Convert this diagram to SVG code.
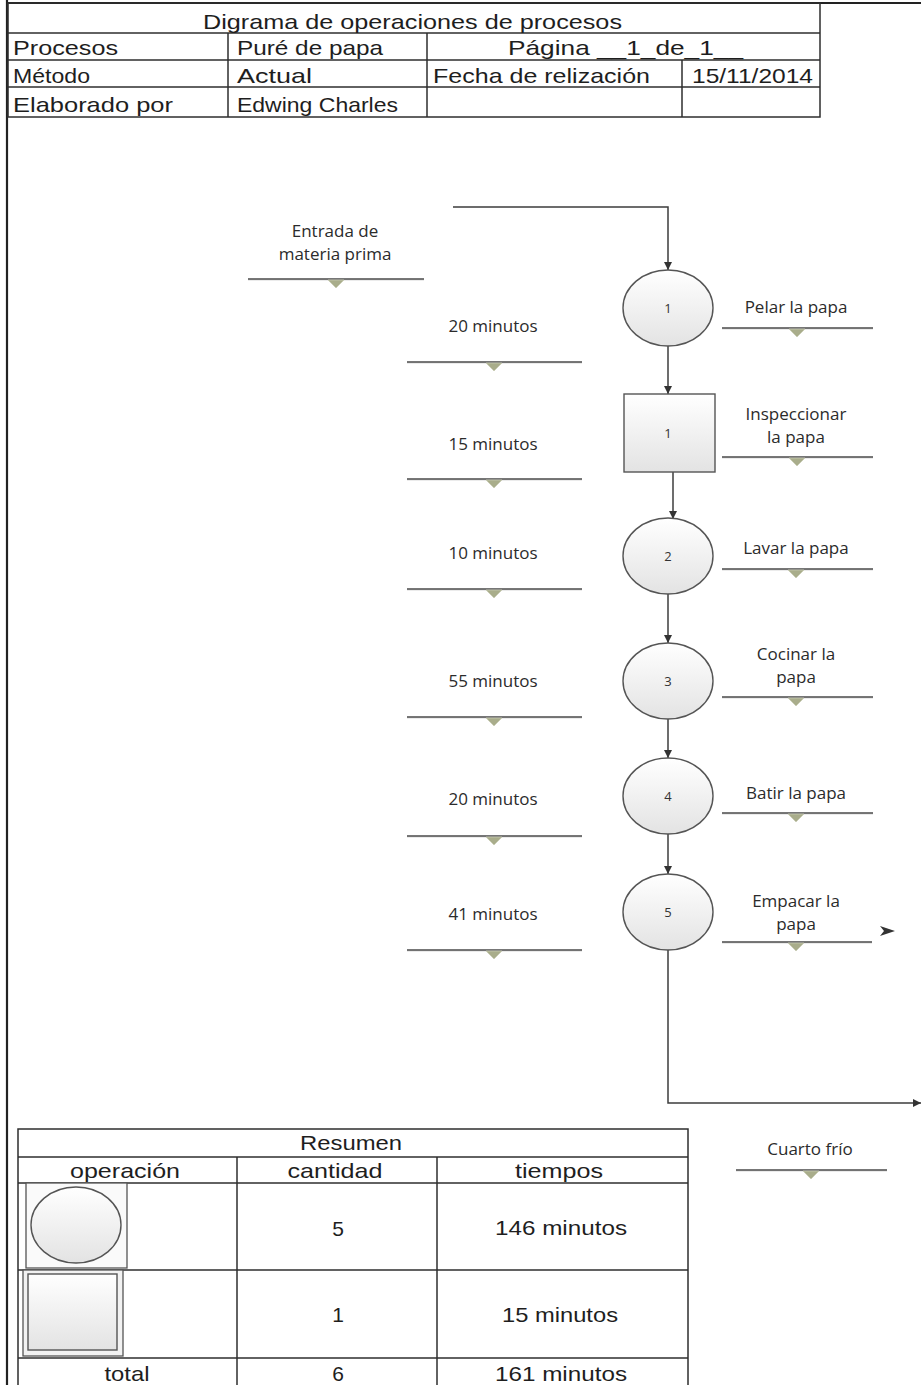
<svg xmlns="http://www.w3.org/2000/svg" width="921" height="1385" viewBox="0 0 921 1385">
<defs>
<style>
.h{font-family:"Liberation Sans",Arial,sans-serif;font-size:21px;fill:#1e1e1e}
.hc{font-family:"Liberation Sans",Arial,sans-serif;font-size:21px;fill:#1e1e1e;text-anchor:middle}
.t{font-family:"Open Sans","Noto Sans","DejaVu Sans",sans-serif;font-size:17px;fill:#2b2b2b;text-anchor:middle}
.n{font-family:"Open Sans","Noto Sans","DejaVu Sans",sans-serif;font-size:13px;fill:#333;text-anchor:middle}
.grid{stroke:#2e2e2e;stroke-width:1.5;fill:none}
.conn{stroke:#3c3c3c;stroke-width:1.5;fill:none}
.al{stroke:#4a4a4a;stroke-width:1.5}
.als{stroke:#d8d8d8;stroke-width:1}
.mk{fill:#a9ad8b;stroke:#c9ccb5;stroke-width:0.8}
.shape{fill:url(#g);stroke:#555;stroke-width:1.4}
</style>
<linearGradient id="g" x1="0" y1="0" x2="0" y2="1">
<stop offset="0" stop-color="#ffffff"/>
<stop offset="1" stop-color="#e3e3e3"/>
</linearGradient>
<marker id="arr" viewBox="0 0 10 10" refX="10" refY="5" markerWidth="8" markerHeight="8" markerUnits="userSpaceOnUse" orient="auto">
<path d="M0,0 L10,5 L0,10 z" fill="#333"/>
</marker>
<symbol id="tri" overflow="visible">
<path d="M-8,1 L8,1 L0,9 z" class="mk"/>
</symbol>
</defs>

<rect x="0" y="0" width="921" height="1385" fill="#ffffff"/>

<!-- page border -->
<g id="page-border">
<line x1="7" y1="0" x2="7" y2="1385" stroke="#222" stroke-width="2.2"/>
<line x1="6" y1="3" x2="921" y2="3" stroke="#222" stroke-width="2.2"/>
</g>

<!-- header table -->
<g id="header-table">
<rect x="8" y="3" width="812" height="114" class="grid"/>
<line x1="8" y1="33" x2="820" y2="33" class="grid"/>
<line x1="8" y1="60" x2="820" y2="60" class="grid"/>
<line x1="8" y1="87" x2="820" y2="87" class="grid"/>
<line x1="228" y1="33" x2="228" y2="117" class="grid"/>
<line x1="427" y1="33" x2="427" y2="117" class="grid"/>
<line x1="682" y1="60" x2="682" y2="117" class="grid"/>
<text class="h" x="203" y="29" textLength="419" lengthAdjust="spacingAndGlyphs">Digrama de operaciones de procesos</text>
<text class="h" x="13" y="55" textLength="105" lengthAdjust="spacingAndGlyphs">Procesos</text>
<text class="h" x="237" y="55" textLength="146" lengthAdjust="spacingAndGlyphs">Puré de papa</text>
<text class="h" x="508" y="55" textLength="235" lengthAdjust="spacingAndGlyphs">Página __1_de_1__</text>
<text class="h" x="13" y="83" textLength="77" lengthAdjust="spacingAndGlyphs">Método</text>
<text class="h" x="237" y="83" textLength="75" lengthAdjust="spacingAndGlyphs">Actual</text>
<text class="h" x="433" y="83" textLength="217" lengthAdjust="spacingAndGlyphs">Fecha de relización</text>
<text class="h" x="692" y="83" textLength="121" lengthAdjust="spacingAndGlyphs">15/11/2014</text>
<text class="h" x="13" y="112" textLength="160" lengthAdjust="spacingAndGlyphs">Elaborado por</text>
<text class="h" x="237" y="112" textLength="161" lengthAdjust="spacingAndGlyphs">Edwing Charles</text>
</g>

<!-- connectors -->
<g id="connectors">
<polyline points="453,207 668,207 668,270" class="conn" marker-end="url(#arr)"/>
<line x1="668" y1="346" x2="668" y2="394" class="conn" marker-end="url(#arr)"/>
<line x1="673" y1="472" x2="673" y2="519" class="conn" marker-end="url(#arr)"/>
<line x1="668" y1="594" x2="668" y2="643" class="conn" marker-end="url(#arr)"/>
<line x1="668" y1="719" x2="668" y2="758" class="conn" marker-end="url(#arr)"/>
<line x1="668" y1="834" x2="668" y2="874" class="conn" marker-end="url(#arr)"/>
<polyline points="668,950 668,1103 921,1103" class="conn" marker-end="url(#arr)"/>
<path d="M880,926 L895,931 L880,936 L884,931 z" fill="#333"/>
</g>

<!-- process nodes -->
<g id="op1">
<ellipse cx="668" cy="308" rx="45" ry="38" class="shape"/>
<text class="n" x="668" y="313">1</text>
</g>
<g id="insp1">
<rect x="624" y="394" width="91" height="78" class="shape"/>
<text class="n" x="668" y="438">1</text>
</g>
<g id="op2">
<ellipse cx="668" cy="556" rx="45" ry="38" class="shape"/>
<text class="n" x="668" y="561">2</text>
</g>
<g id="op3">
<ellipse cx="668" cy="681" rx="45" ry="38" class="shape"/>
<text class="n" x="668" y="686">3</text>
</g>
<g id="op4">
<ellipse cx="668" cy="796" rx="45" ry="38" class="shape"/>
<text class="n" x="668" y="801">4</text>
</g>
<g id="op5">
<ellipse cx="668" cy="912" rx="45" ry="38" class="shape"/>
<text class="n" x="668" y="917">5</text>
</g>

<!-- annotations -->
<g id="ann-entrada">
<text class="t" x="335" y="237">Entrada de</text>
<text class="t" x="335" y="260">materia prima</text>
<line x1="248" y1="280" x2="424" y2="280" class="als"/>
<line x1="248" y1="279" x2="424" y2="279" class="al"/>
<use href="#tri" x="336" y="279"/>
</g>
<g id="ann-pelar">
<text class="t" x="796" y="313">Pelar la papa</text>
<line x1="722" y1="329" x2="873" y2="329" class="als"/>
<line x1="722" y1="328" x2="873" y2="328" class="al"/>
<use href="#tri" x="797" y="328"/>
</g>
<g id="ann-inspeccionar">
<text class="t" x="796" y="420">Inspeccionar</text>
<text class="t" x="796" y="443">la papa</text>
<line x1="722" y1="458" x2="873" y2="458" class="als"/>
<line x1="722" y1="457" x2="873" y2="457" class="al"/>
<use href="#tri" x="797" y="457"/>
</g>
<g id="ann-lavar">
<text class="t" x="796" y="554">Lavar la papa</text>
<line x1="722" y1="570" x2="873" y2="570" class="als"/>
<line x1="722" y1="569" x2="873" y2="569" class="al"/>
<use href="#tri" x="796" y="569"/>
</g>
<g id="ann-cocinar">
<text class="t" x="796" y="660">Cocinar la</text>
<text class="t" x="796" y="683">papa</text>
<line x1="722" y1="698" x2="873" y2="698" class="als"/>
<line x1="722" y1="697" x2="873" y2="697" class="al"/>
<use href="#tri" x="796" y="697"/>
</g>
<g id="ann-batir">
<text class="t" x="796" y="799">Batir la papa</text>
<line x1="722" y1="814" x2="873" y2="814" class="als"/>
<line x1="722" y1="813" x2="873" y2="813" class="al"/>
<use href="#tri" x="796" y="813"/>
</g>
<g id="ann-empacar">
<text class="t" x="796" y="907">Empacar la</text>
<text class="t" x="796" y="930">papa</text>
<line x1="722" y1="943" x2="872" y2="943" class="als"/>
<line x1="722" y1="942" x2="872" y2="942" class="al"/>
<use href="#tri" x="796" y="942"/>
</g>
<g id="ann-cuarto">
<text class="t" x="810" y="1155">Cuarto frío</text>
<line x1="736" y1="1171" x2="887" y2="1171" class="als"/>
<line x1="736" y1="1170" x2="887" y2="1170" class="al"/>
<use href="#tri" x="811" y="1170"/>
</g>

<g id="time1">
<text class="t" x="493" y="332">20 minutos</text>
<line x1="407" y1="363" x2="582" y2="363" class="als"/>
<line x1="407" y1="362" x2="582" y2="362" class="al"/>
<use href="#tri" x="494" y="362"/>
</g>
<g id="time2">
<text class="t" x="493" y="450">15 minutos</text>
<line x1="407" y1="480" x2="582" y2="480" class="als"/>
<line x1="407" y1="479" x2="582" y2="479" class="al"/>
<use href="#tri" x="494" y="479"/>
</g>
<g id="time3">
<text class="t" x="493" y="559">10 minutos</text>
<line x1="407" y1="590" x2="582" y2="590" class="als"/>
<line x1="407" y1="589" x2="582" y2="589" class="al"/>
<use href="#tri" x="494" y="589"/>
</g>
<g id="time4">
<text class="t" x="493" y="687">55 minutos</text>
<line x1="407" y1="718" x2="582" y2="718" class="als"/>
<line x1="407" y1="717" x2="582" y2="717" class="al"/>
<use href="#tri" x="494" y="717"/>
</g>
<g id="time5">
<text class="t" x="493" y="805">20 minutos</text>
<line x1="407" y1="837" x2="582" y2="837" class="als"/>
<line x1="407" y1="836" x2="582" y2="836" class="al"/>
<use href="#tri" x="494" y="836"/>
</g>
<g id="time6">
<text class="t" x="493" y="920">41 minutos</text>
<line x1="407" y1="951" x2="582" y2="951" class="als"/>
<line x1="407" y1="950" x2="582" y2="950" class="al"/>
<use href="#tri" x="494" y="950"/>
</g>

<!-- summary table -->
<g id="summary-table">
<rect x="18" y="1129" width="670" height="258" class="grid"/>
<line x1="18" y1="1157" x2="688" y2="1157" class="grid"/>
<line x1="18" y1="1183" x2="688" y2="1183" class="grid"/>
<line x1="18" y1="1270" x2="688" y2="1270" class="grid"/>
<line x1="18" y1="1358" x2="688" y2="1358" class="grid"/>
<line x1="237" y1="1157" x2="237" y2="1385" class="grid"/>
<line x1="437" y1="1157" x2="437" y2="1385" class="grid"/>
<text class="hc" x="351" y="1150" textLength="102" lengthAdjust="spacingAndGlyphs">Resumen</text>
<text class="hc" x="125" y="1178" textLength="110" lengthAdjust="spacingAndGlyphs">operación</text>
<text class="hc" x="335" y="1178" textLength="95" lengthAdjust="spacingAndGlyphs">cantidad</text>
<text class="hc" x="559" y="1178" textLength="88" lengthAdjust="spacingAndGlyphs">tiempos</text>
<rect x="26" y="1183" width="101" height="85" fill="#fafafa" stroke="#555" stroke-width="1.3"/>
<ellipse cx="76" cy="1225" rx="45" ry="38" class="shape"/>
<rect x="23" y="1270" width="100" height="86" fill="#f2f2f2" stroke="#555" stroke-width="1.3"/>
<rect x="28" y="1274" width="89" height="76" class="shape"/>
<text class="hc" x="338" y="1236">5</text>
<text class="hc" x="561" y="1235" textLength="132" lengthAdjust="spacingAndGlyphs">146 minutos</text>
<text class="hc" x="338" y="1322">1</text>
<text class="hc" x="560" y="1322" textLength="116" lengthAdjust="spacingAndGlyphs">15 minutos</text>
<text class="hc" x="127" y="1381" textLength="45" lengthAdjust="spacingAndGlyphs">total</text>
<text class="hc" x="338" y="1381">6</text>
<text class="hc" x="561" y="1381" textLength="132" lengthAdjust="spacingAndGlyphs">161 minutos</text>
</g>
</svg>
